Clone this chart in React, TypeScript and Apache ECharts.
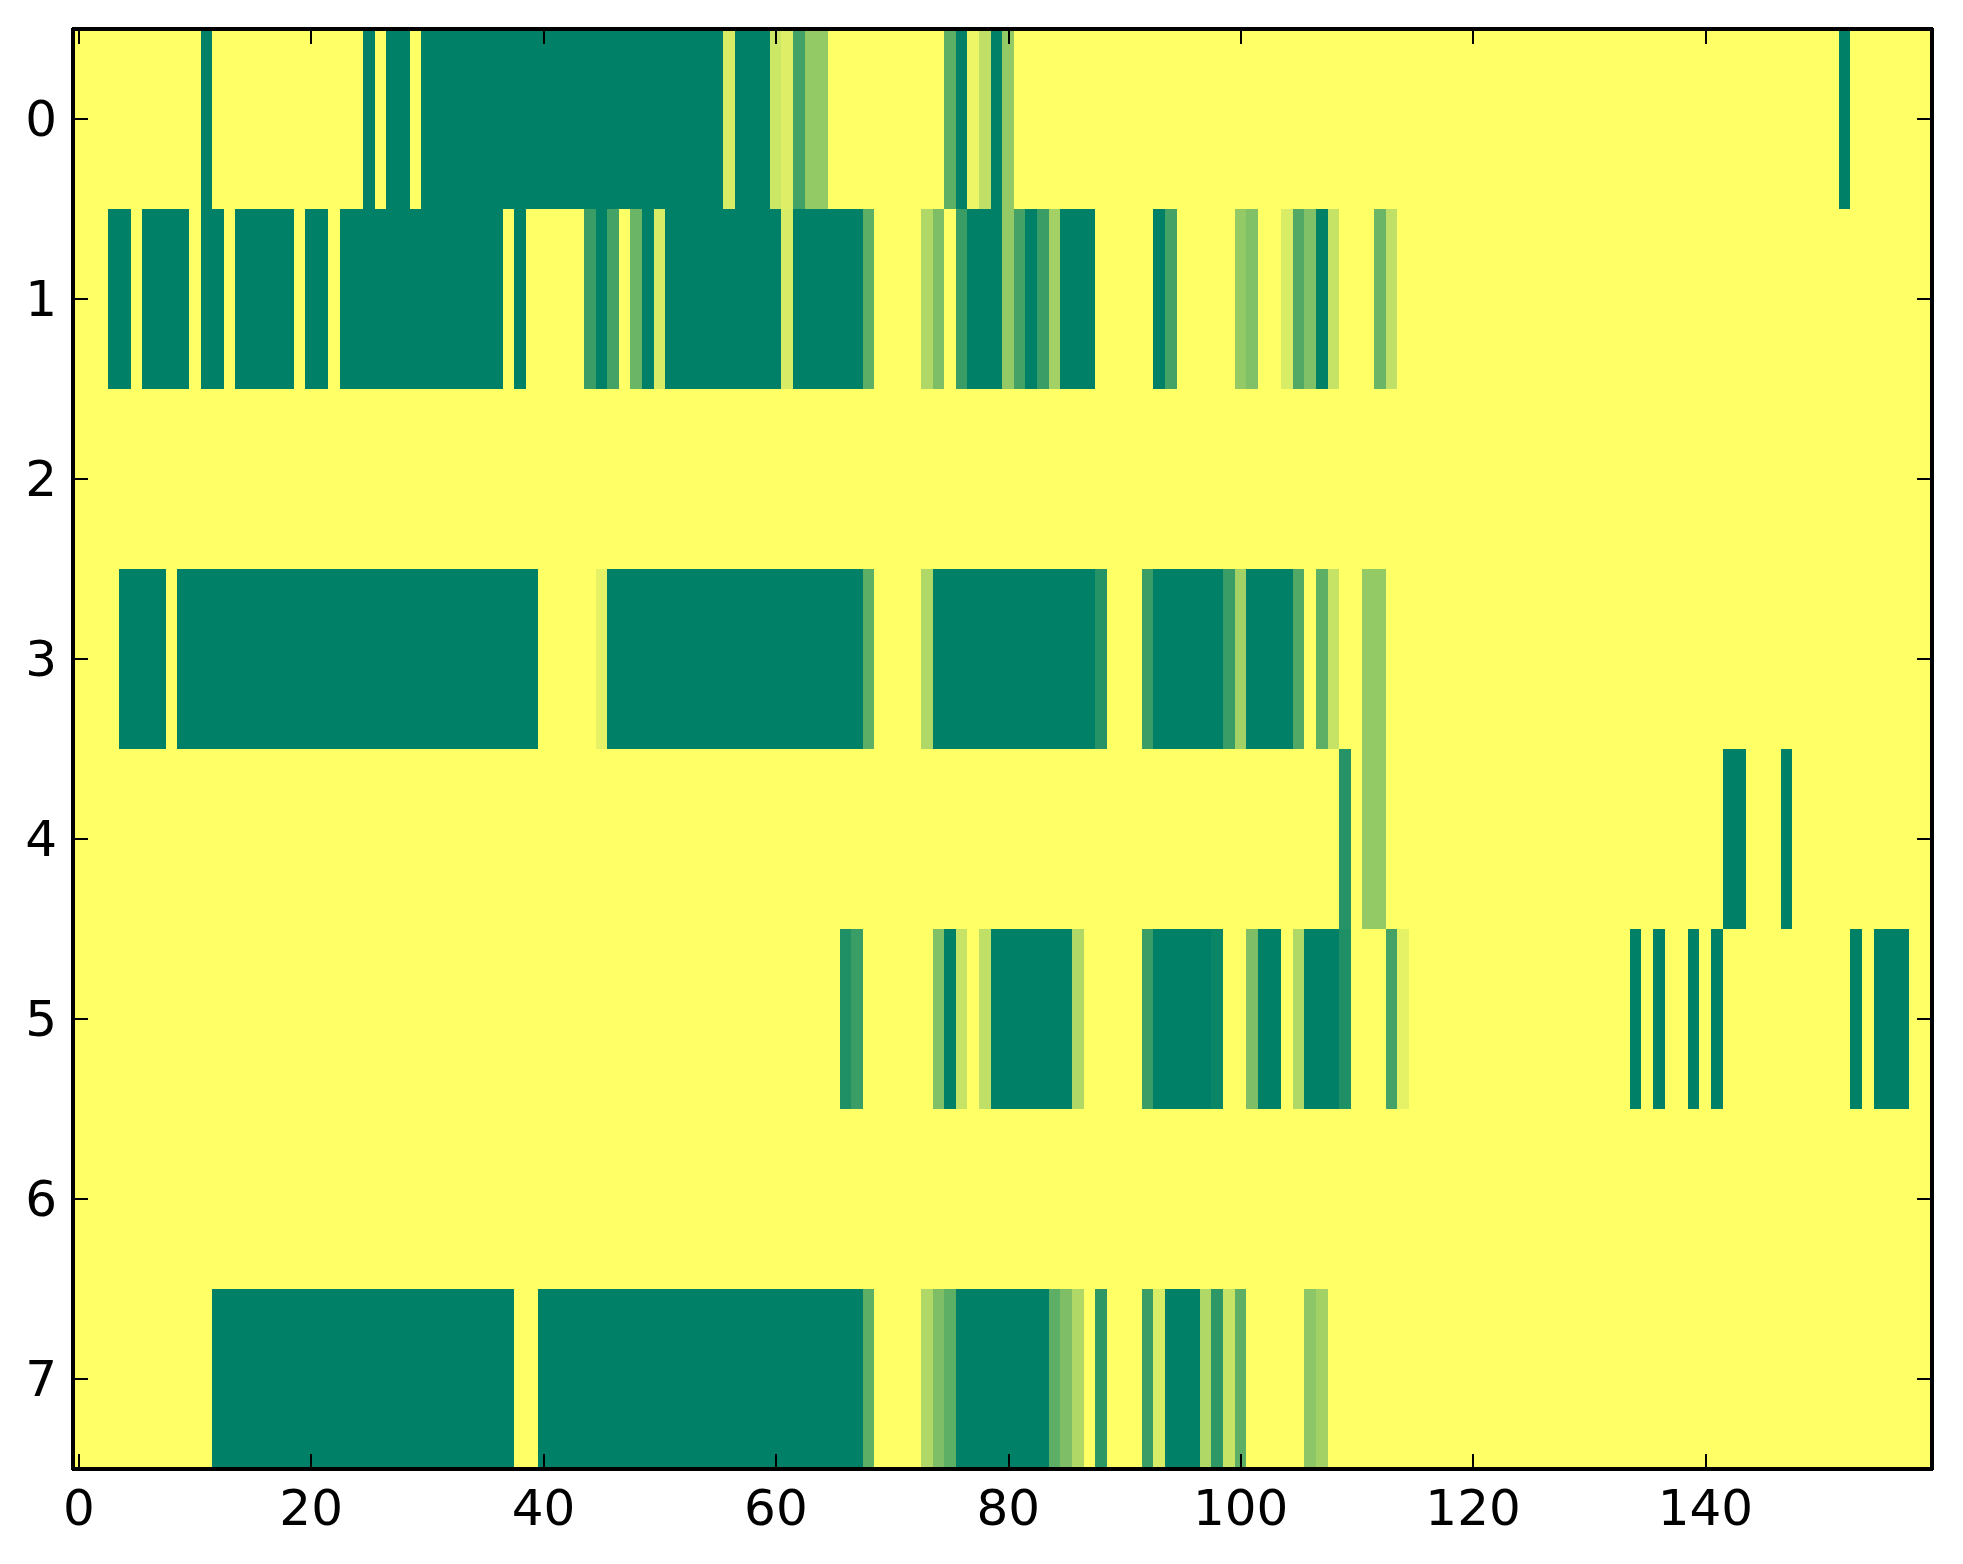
import React, { useEffect, useRef } from "react";
import * as echarts from "echarts";

// Row labels (y categories) and tick labels shown on the x axis
const rowLabels = ["0", "1", "2", "3", "4", "5", "6", "7"];
const xTickLabels = ["0", "20", "40", "60", "80", "100", "120", "140"];
const columnCount = 160;
const columnLabels = Array.from({ length: columnCount }, (_, i) => String(i));

// Cell values per row (0 = yellow, 1 = dark green), 20 columns per line
const row0 = [
  0,0,0,0,0,0,0,0,0,0, 0,1,0,0,0,0,0,0,0,0, // 0
  0,0,0,0,0,1,0,1,1,0, 1,1,1,1,1,1,1,1,1,1, // 20
  1,1,1,1,1,1,1,1,1,1, 1,1,1,1,1,1,0.15,1,1,1, // 40
  0.2,0.13,0.74,0.42,0.42,0,0,0,0,0, 0,0,0,0,0,0.63,1,0.07,0.25,1, // 60
  0.42,0,0,0,0,0,0,0,0,0, 0,0,0,0,0,0,0,0,0,0, // 80
  0,0,0,0,0,0,0,0,0,0, 0,0,0,0,0,0,0,0,0,0, // 100
  0,0,0,0,0,0,0,0,0,0, 0,0,0,0,0,0,0,0,0,0, // 120
  0,0,0,0,0,0,0,0,0,0, 0,0,1,0,0,0,0,0,0,0, // 140
];
const row1 = [
  0,0,0,1,1,0,1,1,1,1, 0,1,1,0,1,1,1,1,1,0, // 0
  1,1,0,1,1,1,1,1,1,1, 1,1,1,1,1,1,1,0,1,0, // 20
  0,0,0,0,0.77,1,0.73,0,0.58,1, 0.15,1,1,1,1,1,1,1,1,1, // 40
  1,0.15,1,1,1,1,1,1,0.63,0, 0,0,0,0.31,0.51,0,0.77,1,1,1, // 60
  0.42,0.73,1,0.77,0.36,1,1,1,0,0, 0,0,0,1,0.73,0,0,0,0,0, // 80
  0.42,0.5,0,0,0.15,0.68,0.5,1,0.22,0, 0,0,0.58,0.25,0,0,0,0,0,0, // 100
  0,0,0,0,0,0,0,0,0,0, 0,0,0,0,0,0,0,0,0,0, // 120
  0,0,0,0,0,0,0,0,0,0, 0,0,0,0,0,0,0,0,0,0, // 140
];
const row2 = [
  0,0,0,0,0,0,0,0,0,0, 0,0,0,0,0,0,0,0,0,0, // 0
  0,0,0,0,0,0,0,0,0,0, 0,0,0,0,0,0,0,0,0,0, // 20
  0,0,0,0,0,0,0,0,0,0, 0,0,0,0,0,0,0,0,0,0, // 40
  0,0,0,0,0,0,0,0,0,0, 0,0,0,0,0,0,0,0,0,0, // 60
  0,0,0,0,0,0,0,0,0,0, 0,0,0,0,0,0,0,0,0,0, // 80
  0,0,0,0,0,0,0,0,0,0, 0,0,0,0,0,0,0,0,0,0, // 100
  0,0,0,0,0,0,0,0,0,0, 0,0,0,0,0,0,0,0,0,0, // 120
  0,0,0,0,0,0,0,0,0,0, 0,0,0,0,0,0,0,0,0,0, // 140
];
const row3 = [
  0,0,0,0,1,1,1,1,0,1, 1,1,1,1,1,1,1,1,1,1, // 0
  1,1,1,1,1,1,1,1,1,1, 1,1,1,1,1,1,1,1,1,1, // 20
  0,0,0,0,0,0.1,1,1,1,1, 1,1,1,1,1,1,1,1,1,1, // 40
  1,1,1,1,1,1,1,1,0.63,0, 0,0,0,0.31,1,1,1,1,1,1, // 60
  1,1,1,1,1,1,1,1,0.85,0, 0,0,0.77,1,1,1,1,1,1,0.77, // 80
  0.36,1,1,1,1,0.68,0,0.63,0.22,0, 0,0.42,0.42,0,0,0,0,0,0,0, // 100
  0,0,0,0,0,0,0,0,0,0, 0,0,0,0,0,0,0,0,0,0, // 120
  0,0,0,0,0,0,0,0,0,0, 0,0,0,0,0,0,0,0,0,0, // 140
];
const row4 = [
  0,0,0,0,0,0,0,0,0,0, 0,0,0,0,0,0,0,0,0,0, // 0
  0,0,0,0,0,0,0,0,0,0, 0,0,0,0,0,0,0,0,0,0, // 20
  0,0,0,0,0,0,0,0,0,0, 0,0,0,0,0,0,0,0,0,0, // 40
  0,0,0,0,0,0,0,0,0,0, 0,0,0,0,0,0,0,0,0,0, // 60
  0,0,0,0,0,0,0,0,0,0, 0,0,0,0,0,0,0,0,0,0, // 80
  0,0,0,0,0,0,0,0,0,0.85, 0,0.42,0.42,0,0,0,0,0,0,0, // 100
  0,0,0,0,0,0,0,0,0,0, 0,0,0,0,0,0,0,0,0,0, // 120
  0,0,1,1,0,0,0,1,0,0, 0,0,0,0,0,0,0,0,0,0, // 140
];
const row5 = [
  0,0,0,0,0,0,0,0,0,0, 0,0,0,0,0,0,0,0,0,0, // 0
  0,0,0,0,0,0,0,0,0,0, 0,0,0,0,0,0,0,0,0,0, // 20
  0,0,0,0,0,0,0,0,0,0, 0,0,0,0,0,0,0,0,0,0, // 40
  0,0,0,0,0,0,0.88,0.77,0,0, 0,0,0,0,0.5,1,0.22,0,0.25,1, // 60
  1,1,1,1,1,1,0.31,0,0,0, 0,0,0.77,1,1,1,1,1,0.96,0, // 80
  0,0.51,1,1,0,0.31,1,1,1,0.88, 0,0,0,0.73,0.1,0,0,0,0,0, // 100
  0,0,0,0,0,0,0,0,0,0, 0,0,0,0,1,0,1,0,0,1, // 120
  0,1,0,0,0,0,0,0,0,0, 0,0,0,1,0,1,1,1,0,0, // 140
];
const row6 = [
  0,0,0,0,0,0,0,0,0,0, 0,0,0,0,0,0,0,0,0,0, // 0
  0,0,0,0,0,0,0,0,0,0, 0,0,0,0,0,0,0,0,0,0, // 20
  0,0,0,0,0,0,0,0,0,0, 0,0,0,0,0,0,0,0,0,0, // 40
  0,0,0,0,0,0,0,0,0,0, 0,0,0,0,0,0,0,0,0,0, // 60
  0,0,0,0,0,0,0,0,0,0, 0,0,0,0,0,0,0,0,0,0, // 80
  0,0,0,0,0,0,0,0,0,0, 0,0,0,0,0,0,0,0,0,0, // 100
  0,0,0,0,0,0,0,0,0,0, 0,0,0,0,0,0,0,0,0,0, // 120
  0,0,0,0,0,0,0,0,0,0, 0,0,0,0,0,0,0,0,0,0, // 140
];
const row7 = [
  0,0,0,0,0,0,0,0,0,0, 0,0,1,1,1,1,1,1,1,1, // 0
  1,1,1,1,1,1,1,1,1,1, 1,1,1,1,1,1,1,1,0,0, // 20
  1,1,1,1,1,1,1,1,1,1, 1,1,1,1,1,1,1,1,1,1, // 40
  1,1,1,1,1,1,1,1,0.63,0, 0,0,0,0.31,0.51,0.63,1,1,1,1, // 60
  1,1,1,1,0.63,0.51,0.31,0,0.82,0, 0,0,0.77,0.15,1,1,1,0.31,0.82,0.22, // 80
  0.63,0,0,0,0,0,0.45,0.36,0,0, 0,0,0,0,0,0,0,0,0,0, // 100
  0,0,0,0,0,0,0,0,0,0, 0,0,0,0,0,0,0,0,0,0, // 120
  0,0,0,0,0,0,0,0,0,0, 0,0,0,0,0,0,0,0,0,0, // 140
];

const rows = [row0, row1, row2, row3, row4, row5, row6, row7];

// summer colormap ends (reversed: low value = yellow, high value = green)
const YELLOW = "#ffff66";
const GREEN = "#008066";

export default function App() {
  const ref = useRef<HTMLDivElement>(null);

  useEffect(() => {
    if (!ref.current) return;
    const chart = echarts.init(ref.current, undefined, { renderer: "svg" });

    const data: [number, number, number][] = [];
    rows.forEach((row, r) => {
      row.forEach((v, c) => {
        data.push([c, r, v]);
      });
    });

    const showX = (_i: number, value: string) => xTickLabels.includes(value);
    const font = "DejaVu Sans";

    const baseAxisLine = { show: true, onZero: false, lineStyle: { color: "#000", width: 3.5 } };
    const tickStyle = { color: "#000", width: 2 };

    const option = {
      animation: false,
      backgroundColor: "#ffffff",
      textStyle: { fontFamily: font },
      grid: { left: 73, top: 29, width: 1859, height: 1440, containLabel: false },
      xAxis: [
        {
          type: "category",
          data: columnLabels,
          position: "bottom",
          boundaryGap: true,
          z: 10,
          axisLine: baseAxisLine,
          axisTick: { show: true, inside: true, length: 15, alignWithLabel: true, interval: showX, lineStyle: tickStyle },
          axisLabel: { show: true, interval: showX, margin: 14, fontSize: 50, color: "#000", fontFamily: font },
          splitLine: { show: false },
        },
        {
          type: "category",
          data: columnLabels,
          position: "top",
          boundaryGap: true,
          z: 10,
          axisLine: baseAxisLine,
          axisTick: { show: true, inside: true, length: 15, alignWithLabel: true, interval: showX, lineStyle: tickStyle },
          axisLabel: { show: false },
          splitLine: { show: false },
        },
      ],
      yAxis: [
        {
          type: "category",
          data: rowLabels,
          inverse: true,
          position: "left",
          boundaryGap: true,
          z: 10,
          axisLine: baseAxisLine,
          axisTick: { show: true, inside: true, length: 15, alignWithLabel: true, interval: 0, lineStyle: tickStyle },
          axisLabel: { show: true, interval: 0, margin: 16, fontSize: 50, color: "#000", fontFamily: font },
          splitLine: { show: false },
        },
        {
          type: "category",
          data: rowLabels,
          inverse: true,
          position: "right",
          boundaryGap: true,
          z: 10,
          axisLine: baseAxisLine,
          axisTick: { show: true, inside: true, length: 15, alignWithLabel: true, interval: 0, lineStyle: tickStyle },
          axisLabel: { show: false },
          splitLine: { show: false },
        },
      ],
      visualMap: {
        show: false,
        type: "continuous",
        min: 0,
        max: 1,
        dimension: 2,
        seriesIndex: 0,
        inRange: { color: [YELLOW, GREEN] },
      },
      series: [
        {
          type: "heatmap",
          xAxisIndex: 0,
          yAxisIndex: 0,
          data,
          progressive: 0,
          itemStyle: { borderWidth: 0 },
          emphasis: { disabled: true },
        },
      ],
    };

    chart.setOption(option as any);
    return () => chart.dispose();
  }, []);

  return (
    <div
      ref={ref}
      style={{
        position: "absolute",
        left: 0,
        top: 0,
        width: 1963,
        height: 1564,
        background: "#ffffff",
        shapeRendering: "crispEdges",
      } as React.CSSProperties}
    />
  );
}
